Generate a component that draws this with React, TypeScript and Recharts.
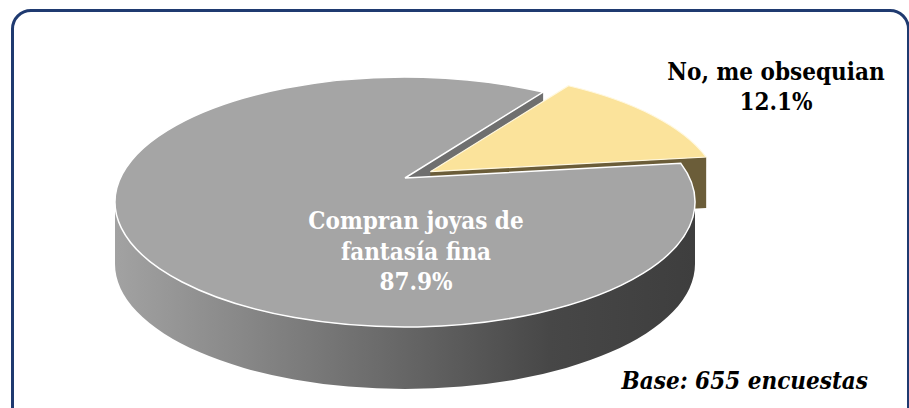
import { PieChart, Pie } from 'recharts';

// values
const categories = ['No, me obsequian', 'Compran joyas de fantasía fina'];
const shares = [12.1, 87.9];
const labelLines = [
  ['No, me obsequian', '12.1%'],
  ['Compran joyas de', 'fantasía fina', '87.9%'],
];
const baseNote = 'Base: 655 encuestas';

const data = categories.map((name, i) => ({ name, value: shares[i] }));

const RY_RATIO = 125 / 290;
const DEPTH = 62;
const APEX_LIFT = 24;
const EXPLODE = 33;
const TOP_FILL = ['#FBE39B', '#A5A5A5'];
const CUT_FILL = ['#6B5D39', '#6F6F6F'];
const SERIF = "'DejaVu Serif Condensed', 'DejaVu Serif', serif";

const rad = (a: number) => (a * Math.PI) / 180;

function geom(props: any) {
  const { cx, cy, outerRadius, startAngle, endAngle, index } = props;
  const rx = outerRadius;
  const ry = outerRadius * RY_RATIO;
  const s = Math.min(startAngle, endAngle);
  const e = Math.max(startAngle, endAngle);
  let dx = 0;
  let dy = 0;
  if (index === 0) {
    const mid = rad((s + e) / 2);
    dx = EXPLODE * Math.cos(mid);
    dy = -EXPLODE * Math.sin(mid) * 0.3;
  }
  const pt = (a: number, down = 0) => [cx + dx + rx * Math.cos(rad(a)), cy + dy - ry * Math.sin(rad(a)) + down];
  const apex = (down = 0) => [cx + dx, cy + dy - APEX_LIFT + down];
  return { rx, ry, s, e, pt, apex };
}

const p = (xy: number[]) => `${xy[0].toFixed(2)},${xy[1].toFixed(2)}`;

function topPath(g: ReturnType<typeof geom>) {
  const large = g.e - g.s > 180 ? 1 : 0;
  return `M${p(g.apex())} L${p(g.pt(g.s))} A${g.rx},${g.ry} 0 ${large} 0 ${p(g.pt(g.e))} Z`;
}

function cutPath(g: ReturnType<typeof geom>, a: number, depth: number) {
  return `M${p(g.apex())} L${p(g.pt(a))} L${p(g.pt(a, depth))} L${p(g.apex(depth))} Z`;
}

function wallPath(g: ReturnType<typeof geom>) {
  const ranges: number[][] = [];
  for (const base of [180, 540]) {
    const a0 = Math.max(g.s, base);
    const a1 = Math.min(g.e, base + 180);
    if (a1 > a0) ranges.push([a0, a1]);
  }
  return ranges
    .map(([a0, a1]) =>
      `M${p(g.pt(a0))} A${g.rx},${g.ry} 0 0 0 ${p(g.pt(a1))} L${p(g.pt(a1, DEPTH))} A${g.rx},${g.ry} 0 0 1 ${p(g.pt(a0, DEPTH))} Z`)
    .join(' ');
}

function visibleCuts(g: ReturnType<typeof geom>) {
  const cuts: number[] = [];
  if (Math.cos(rad(g.s)) > 0) cuts.push(g.s);
  if (Math.cos(rad(g.e)) < 0) cuts.push(g.e);
  return cuts;
}

// layer 1: cut faces of the slices that stay in place
const backShape = (props: any) => {
  if (props.index === 0) return <g />;
  const g = geom(props);
  return (
    <g>
      {visibleCuts(g).map((a) => <path key={a} d={cutPath(g, a, DEPTH)} fill={CUT_FILL[props.index]} />)}
    </g>
  );
};

// layer 2: the pulled-out slice (further back, so its side looks shorter)
const explodedShape = (props: any) => {
  if (props.index !== 0) return <g />;
  const g = geom(props);
  return (
    <g>
      {visibleCuts(g).map((a) => <path key={a} d={cutPath(g, a, DEPTH * 0.82)} fill={CUT_FILL[0]} />)}
      <path d={topPath(g)} fill={TOP_FILL[0]} stroke="#FFF8E0" strokeWidth={1.2} />
    </g>
  );
};

// layer 3: wall and top of the big slice
const frontShape = (props: any) => {
  if (props.index === 0) return <g />;
  const g = geom(props);
  return (
    <g>
      <path d={wallPath(g)} fill="url(#wallGrad)" />
      <path d={topPath(g)} fill={TOP_FILL[props.index]} stroke="#FFFFFF" strokeWidth={1.5} />
    </g>
  );
};

const renderLabel = (props: any) => {
  const { cx, cy, index } = props;
  const lines = labelLines[index];
  const isOut = index === 0;
  const x = isOut ? cx + 371 : cx + 11;
  return (
    <text
      x={x}
      y={isOut ? cy - 122 : cy + 27}
      textAnchor="middle"
      style={{ fontFamily: SERIF }}
      fontWeight="bold"
      fontSize={24}
      fill={isOut ? '#000' : '#FFFFFF'}
    >
      {lines.map((t, i) => (
        <tspan key={i} x={x} dy={i === 0 ? 0 : isOut ? 30 : 30.5}>{t}</tspan>
      ))}
    </text>
  );
};

export default function App() {
  const common = {
    data,
    dataKey: 'value',
    nameKey: 'name',
    cx: 400,
    cy: 197,
    outerRadius: 290,
    startAngle: 18,
    endAngle: 378,
    stroke: 'none',
    isAnimationActive: false,
  };
  return (
    <div style={{ position: 'absolute', left: 0, top: 0, width: 909, height: 408, overflow: 'hidden', background: '#fff' }}>
      <div
        style={{
          position: 'absolute',
          left: 11,
          top: 9,
          width: 893,
          height: 430,
          border: '3px solid #1F3A70',
          borderRadius: 20,
        }}
      />
      <div style={{ position: 'absolute', left: 0, top: 0 }}>
        <PieChart width={909} height={408}>
          <defs>
            <linearGradient id="wallGrad" x1="0" y1="0" x2="1" y2="0">
              <stop offset="0%" stopColor="#A2A2A2" />
              <stop offset="45%" stopColor="#6C6C6C" />
              <stop offset="75%" stopColor="#474747" />
              <stop offset="100%" stopColor="#3E3E3E" />
            </linearGradient>
          </defs>
          <Pie {...common} shape={backShape} activeShape={backShape} />
          <Pie {...common} shape={explodedShape} activeShape={explodedShape} />
          <Pie {...common} shape={frontShape} activeShape={frontShape} label={renderLabel} labelLine={false} />
        </PieChart>
      </div>
      <div
        style={{
          position: 'absolute',
          right: 41,
          top: 366,
          fontFamily: SERIF,
          fontWeight: 'bold',
          fontStyle: 'italic',
          fontSize: 24,
          lineHeight: '30px',
          color: '#000',
        }}
      >
        {baseNote}
      </div>
    </div>
  );
}
